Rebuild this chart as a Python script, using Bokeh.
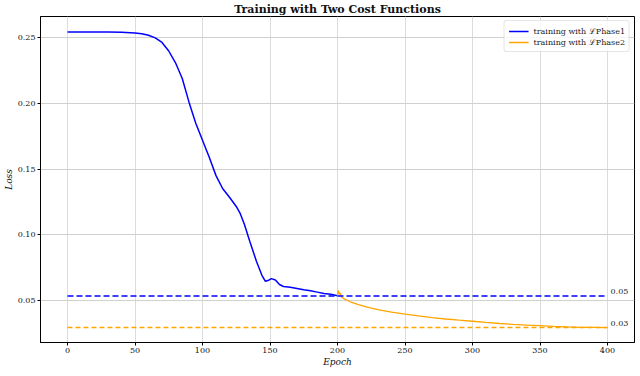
from bokeh.plotting import figure
from bokeh.models import Range1d, Label, Legend, LegendItem, FixedTicker
from bokeh.embed import file_html
from bokeh.resources import INLINE

# ---- data ----
phase1_epoch = [0, 10, 20, 30, 40, 50, 55, 60, 65, 70, 75, 80, 85, 90, 95, 100,
                105, 110, 115, 120, 125, 128, 131, 135, 140, 144, 146.5, 148.5,
                151, 154, 157, 160, 165, 170, 175, 180, 185, 190, 195, 200]
phase1_loss = [0.2545, 0.2545, 0.2545, 0.2545, 0.2543, 0.2538, 0.2532, 0.2520,
               0.2500, 0.2465, 0.2400, 0.2310, 0.2190, 0.2010, 0.1850, 0.1720,
               0.1590, 0.1450, 0.1350, 0.1285, 0.1215, 0.1160, 0.1080, 0.0950,
               0.0795, 0.0690, 0.0645, 0.0650, 0.0665, 0.0655, 0.0620, 0.0605,
               0.0600, 0.0590, 0.0580, 0.0572, 0.0562, 0.0552, 0.0545, 0.0535]

phase2_epoch = [200, 200.5, 201.5, 202, 203, 205, 210, 215, 220, 225, 230, 240,
                250, 260, 270, 280, 290, 300, 310, 320, 330, 340, 350, 360, 370,
                380, 390, 400]
phase2_loss = [0.0535, 0.0575, 0.0545, 0.0555, 0.0525, 0.0510, 0.0485, 0.0468,
               0.0453, 0.0440, 0.0428, 0.0410, 0.0395, 0.0381, 0.0368, 0.0357,
               0.0348, 0.0340, 0.0331, 0.0323, 0.0316, 0.0311, 0.0306, 0.0301,
               0.0297, 0.0294, 0.0293, 0.0292]

final_epochs = [0, 400]
phase1_final = 0.0533
phase2_final = 0.0292
final_labels = ["0.05", "0.03"]

x_ticks = [0, 50, 100, 150, 200, 250, 300, 350, 400]
y_ticks = [0.05, 0.10, 0.15, 0.20, 0.25]

SERIF = "DejaVu Serif"
BLUE = "#0000ff"
ORANGE = "#ffa500"
TEXT = "#111111"

p = figure(frame_width=594, frame_height=326, output_backend="svg", toolbar_location=None,
           x_range=Range1d(-20, 420), y_range=Range1d(0.0178, 0.2663),
           title="Training with Two Cost Functions",
           min_border_left=0, min_border_right=2, min_border_top=0, min_border_bottom=0)

p.title.align = "center"
p.title.text_font = SERIF
p.title.text_font_size = "11px"
p.title.text_font_style = "bold"
p.title.text_color = TEXT
p.title.standoff = 1
p.title.offset = 0

p.outline_line_color = "black"
p.outline_line_width = 1
p.outline_line_alpha = 1

for ax in (p.xaxis[0], p.yaxis[0]):
    ax.major_label_text_font = SERIF
    ax.major_label_text_font_size = "8px"
    ax.major_label_text_color = TEXT
    ax.axis_label_text_font = SERIF
    ax.axis_label_text_font_size = "9px"
    ax.axis_label_text_font_style = "italic"
    ax.axis_label_text_color = TEXT
    ax.minor_tick_line_color = None
    ax.major_tick_out = 3
    ax.major_tick_in = 0
    ax.axis_line_color = "black"
    ax.major_tick_line_color = "black"
    ax.major_label_standoff = 2
    ax.axis_label_standoff = 1

p.xaxis.ticker = FixedTicker(ticks=x_ticks)
p.yaxis.ticker = FixedTicker(ticks=y_ticks)
p.yaxis.major_label_overrides = {t: f"{t:.2f}" for t in y_ticks}
p.xaxis.axis_label = "Epoch"
p.yaxis.axis_label = "Loss"

p.xgrid.grid_line_color = "#dcdcdc"
p.ygrid.grid_line_color = "#d0d0d0"
p.xgrid.grid_line_width = 1
p.ygrid.grid_line_width = 1

r1 = p.line(phase1_epoch, phase1_loss, line_color=BLUE, line_width=1.5)
r2 = p.line(phase2_epoch, phase2_loss, line_color=ORANGE, line_width=1.3)

p.line(final_epochs, [phase1_final] * 2, line_color=BLUE, line_width=1.6, line_dash="6 3")
p.line(final_epochs, [phase2_final] * 2, line_color=ORANGE, line_width=1.5, line_dash="5 3")

for val, lab in zip([phase1_final, phase2_final], final_labels):
    p.add_layout(Label(x=final_epochs[1], y=val, text=lab, x_offset=3, y_offset=2,
                       text_font=SERIF, text_font_size="8px", text_color="#222222",
                       text_baseline="bottom", text_align="left"))

legend = Legend(items=[LegendItem(label="training with \u2112Phase1", renderers=[r1]),
                       LegendItem(label="training with \u2112Phase2", renderers=[r2])],
                location="top_right")
legend.label_text_font = SERIF
legend.label_text_font_size = "8px"
legend.label_text_color = "#222222"
legend.glyph_width = 20
legend.glyph_height = 10
legend.label_height = 10
legend.spacing = 0
legend.padding = 4
legend.margin = 4
legend.border_line_color = "#cccccc"
legend.border_radius = 3
legend.background_fill_alpha = 0.8
p.add_layout(legend)

open("out.html", "w").write(file_html(p, INLINE))
